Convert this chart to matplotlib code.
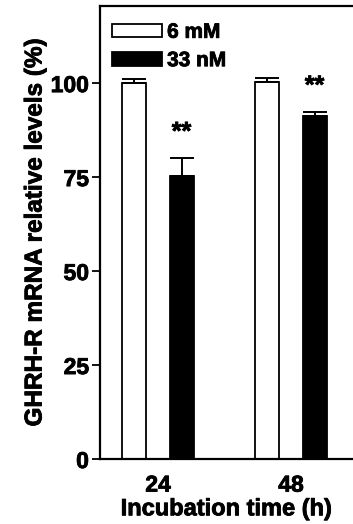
"""Bar chart of GHRH-R mRNA levels after incubation at two concentrations."""

import matplotlib

matplotlib.use("Agg")
import matplotlib.patheffects as pe
import matplotlib.pyplot as plt
import numpy as np

times = ["24", "48"]
low_dose = [100.0, 100.2]  # 6 mM
low_err = [1.0, 1.1]
high_dose = [75.3, 91.2]  # 33 nM
high_err = [4.8, 1.2]
high_marks = ["**", "**"]
labels = ["6 mM", "33 nM"]

plt.rcParams["font.family"] = ["Liberation Sans", "DejaVu Sans"]
plt.rcParams["font.weight"] = "bold"

# heavier strokes for the bold lettering
HEAVY = [pe.withStroke(linewidth=0.6, foreground="black")]


def main():
    fig = plt.figure(figsize=(3.53, 5.24), dpi=100)
    ax = fig.add_axes([0.2833, 0.124, 0.7167, 0.8645])

    x = np.arange(len(times))
    width = 0.18
    offset = 0.177

    white = ax.bar(x - offset, low_dose, width, color="white",
                   edgecolor="black", linewidth=1.3, label=labels[0])
    black = ax.bar(x + offset, high_dose, width, color="black",
                   edgecolor="black", linewidth=1.3, label=labels[1])

    # upper error bars only
    ax.errorbar(x - offset, low_dose, yerr=[np.zeros(len(x)), low_err],
                fmt="none", ecolor="black", elinewidth=1.4, capsize=8.5,
                capthick=1.4)
    ax.errorbar(x + offset, high_dose, yerr=[np.zeros(len(x)), high_err],
                fmt="none", ecolor="black", elinewidth=1.4, capsize=8.5,
                capthick=1.4)

    for xi, val, err, mark in zip(x + offset, high_dose, high_err, high_marks):
        ax.text(xi, val + err + 5.0, mark, ha="center", va="baseline",
                fontsize=18, fontweight="bold", path_effects=HEAVY)

    ax.set_xlim(-0.436, 1.466)
    ax.set_ylim(0, 120.5)
    ax.set_yticks([0, 25, 50, 75, 100])
    ax.set_xticks(x)
    ax.set_xticklabels(times)

    ax.tick_params(axis="y", length=6, width=1.3, pad=2, labelsize=16.5)
    ax.tick_params(axis="x", length=0, pad=10.5, labelsize=16.5)
    for lbl in ax.get_xticklabels() + ax.get_yticklabels():
        lbl.set_path_effects(HEAVY)

    for side in ("left", "bottom", "top"):
        ax.spines[side].set_linewidth(1.6)
    ax.spines["right"].set_visible(False)

    ax.set_xlabel("Incubation time (h)", fontsize=17, fontweight="bold",
                  labelpad=0.5, path_effects=HEAVY)
    ax.set_ylabel("GHRH-R mRNA relative levels (%)", fontsize=17.5,
                  fontweight="bold", labelpad=3, path_effects=HEAVY)

    leg = ax.legend(handles=[white, black], loc="upper left",
                    bbox_to_anchor=(0.047, 0.963), frameon=False, fontsize=15,
                    handlelength=2.4, handleheight=0.65, handletextpad=0.25,
                    labelspacing=0.45, borderpad=0, borderaxespad=0)
    for txt in leg.get_texts():
        txt.set_path_effects(HEAVY)

    fig.savefig("out.png", dpi=100)


if __name__ == "__main__":
    main()
